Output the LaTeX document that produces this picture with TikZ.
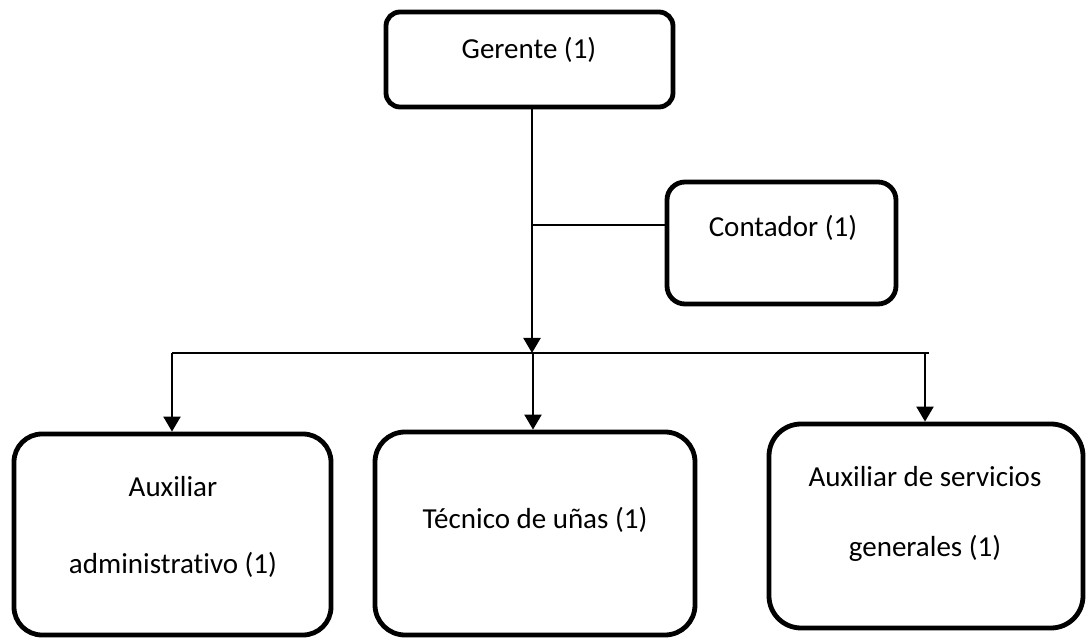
\documentclass[tikz,border=0pt]{standalone}
\usepackage{fontspec}
\setmainfont{Carlito}[Ligatures=NoCommon]
\usetikzlibrary{arrows.meta}
\begin{document}
\begin{tikzpicture}[x=0.5pt,y=-0.5pt,
  box/.style={draw=black, line width=2.4pt, fill=white, inner sep=0pt, text width=0pt},
  lbl/.style={font=\fontsize{14.5}{17}\selectfont, inner sep=0pt, anchor=center},
  conn/.style={draw=black, line width=1.1pt},
  arr/.style={conn, -{Triangle[width=8.5pt,length=7.5pt]}}]
\useasboundingbox (0,0) rectangle (1088,641);
% boxes
\node[box, rounded corners=7pt, minimum width=143.5pt, minimum height=47.5pt] (ger) at (529.5,59.5) {};
\node[box, rounded corners=9pt, minimum width=114.5pt, minimum height=61pt] (con) at (781.5,243) {};
\node[box, rounded corners=14pt, minimum width=158.5pt, minimum height=100.5pt] (aux) at (172.5,534.5) {};
\node[box, rounded corners=15pt, minimum width=160pt, minimum height=101.5pt] (tec) at (535,533.5) {};
\node[box, rounded corners=16pt, minimum width=157pt, minimum height=102pt] (ser) at (926,526) {};
% labels
\node[lbl] (tger) at (529,50) {Gerente (1)};
\node[lbl] (tcon) at (783,228) {Contador (1)};
\node[lbl] (taux1) at (173,487) {Auxiliar};
\node[lbl] (taux2) at (173,565) {administrativo (1)};
\node[lbl] (ttec) at (535,520) {Técnico de uñas (1)};
\node[lbl] (tser1) at (925,477) {Auxiliar de servicios};
\node[lbl] (tser2) at (925,548) {generales (1)};
% junctions
\coordinate (jn) at (532,353);
\coordinate (cj) at (532,225);
\coordinate (dl) at (172,353);
\coordinate (dr) at (929,353);
\coordinate (dm) at (533,353);
\coordinate (drr) at (925,353);
% connectors
\draw[arr] (ger.south -| jn) -- (jn);
\draw[conn] (cj) -- (cj -| con.west);
\draw[conn] (dl) -- (dr);
\draw[arr] (dl) -- (dl |- aux.north);
\draw[arr] (dm) -- (dm |- tec.north);
\draw[arr] (drr) -- (drr |- ser.north);
\end{tikzpicture}
\end{document}
